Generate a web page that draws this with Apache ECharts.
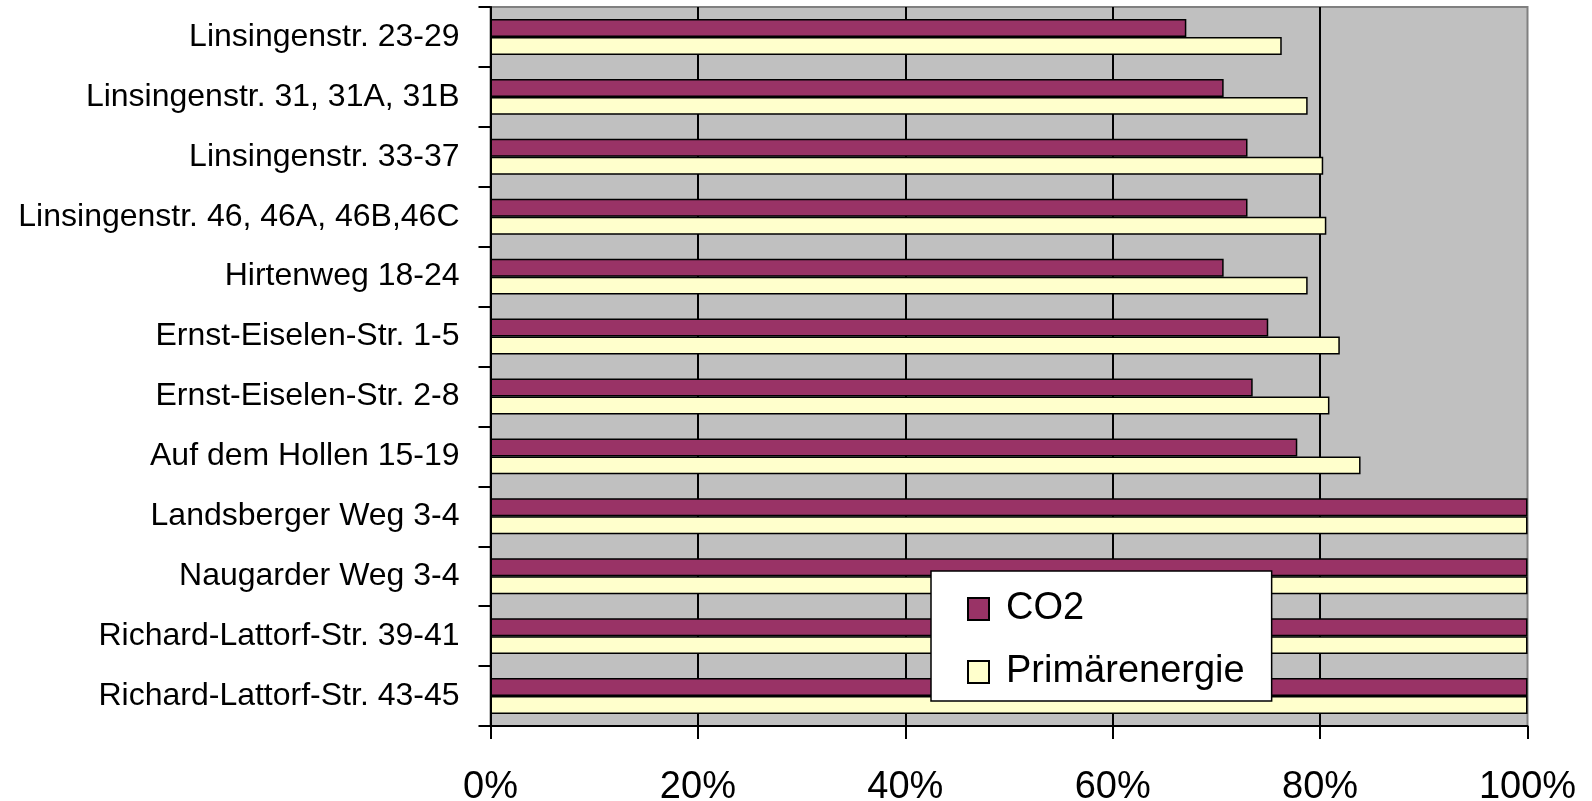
<!DOCTYPE html>
<html>
<head>
<meta charset="utf-8">
<script src="https://cdn.jsdelivr.net/npm/echarts@6/dist/echarts.min.js"></script>
<style>
  html, body { margin: 0; padding: 0; background: #fff; }
  #chart { width: 1592px; height: 801px; }
</style>
</head>
<body>
<div id="chart"></div>
<script>
// Buildings, top to bottom
const categories = [
  'Linsingenstr. 23-29',
  'Linsingenstr. 31, 31A, 31B',
  'Linsingenstr. 33-37',
  'Linsingenstr. 46, 46A, 46B,46C',
  'Hirtenweg 18-24',
  'Ernst-Eiselen-Str. 1-5',
  'Ernst-Eiselen-Str. 2-8',
  'Auf dem Hollen 15-19',
  'Landsberger Weg 3-4',
  'Naugarder Weg 3-4',
  'Richard-Lattorf-Str. 39-41',
  'Richard-Lattorf-Str. 43-45'
];

// Share relative to reference (percent)
const co2 = [67.1, 70.7, 73.0, 73.0, 70.7, 75.0, 73.5, 77.8, 100, 100, 100, 100];
const primaerenergie = [76.3, 78.8, 80.3, 80.6, 78.8, 81.9, 80.9, 83.9, 100, 100, 100, 100];

const seriesNames = ['CO2', 'Primärenergie'];
const xTicks = [0, 20, 40, 60, 80, 100];

const FONT = 'Liberation Sans, Arial, sans-serif';

const chart = echarts.init(document.getElementById('chart'), null, { renderer: 'canvas' });

chart.setOption({
  animation: false,
  grid: {
    left: 490.5,
    right: 64.5,
    top: 7,
    bottom: 75,
    containLabel: false,
    outerBoundsMode: 'none',
    show: true,
    backgroundColor: '#C0C0C0',
    borderColor: '#808080',
    borderWidth: 2
  },
  legend: {
    orient: 'vertical',
    left: 931,
    top: 571,
    data: seriesNames,
    backgroundColor: '#FFFFFF',
    borderColor: '#000000',
    borderWidth: 1.5,
    borderRadius: 0,
    padding: [19, 27, 10, 36],
    itemGap: 25,
    itemWidth: 21,
    itemHeight: 22,
    icon: 'rect',
    textStyle: {
      fontFamily: FONT,
      fontSize: 38,
      color: '#000',
      padding: [0, 0, 0, 12]
    }
  },
  xAxis: {
    type: 'value',
    min: xTicks[0],
    max: xTicks[xTicks.length - 1],
    interval: 20,
    axisLine: { show: true, lineStyle: { color: '#000', width: 2 } },
    axisTick: { show: true, length: 13, lineStyle: { color: '#000', width: 2 } },
    axisLabel: {
      formatter: '{value}%',
      fontFamily: FONT,
      fontSize: 38,
      color: '#000',
      margin: 43
    },
    splitLine: {
      show: true,
      showMaxLine: false,
      lineStyle: { color: '#000', width: 2 }
    }
  },
  yAxis: {
    type: 'category',
    data: categories,
    inverse: true,
    axisLine: { show: true, lineStyle: { color: '#000', width: 2 } },
    axisTick: { show: true, length: 12, lineStyle: { color: '#000', width: 2 } },
    axisLabel: {
      fontFamily: FONT,
      fontSize: 32,
      color: '#000',
      margin: 31
    },
    splitLine: { show: false }
  },
  series: [
    {
      name: seriesNames[0],
      type: 'bar',
      data: co2,
      barCategoryGap: '40%',
      barGap: '0%',
      itemStyle: { color: '#993366', borderColor: '#000', borderWidth: 1.5 }
    },
    {
      name: seriesNames[1],
      type: 'bar',
      data: primaerenergie,
      barCategoryGap: '40%',
      barGap: '0%',
      itemStyle: { color: '#FFFFCC', borderColor: '#000', borderWidth: 1.5 }
    }
  ]
});
</script>
</body>
</html>
